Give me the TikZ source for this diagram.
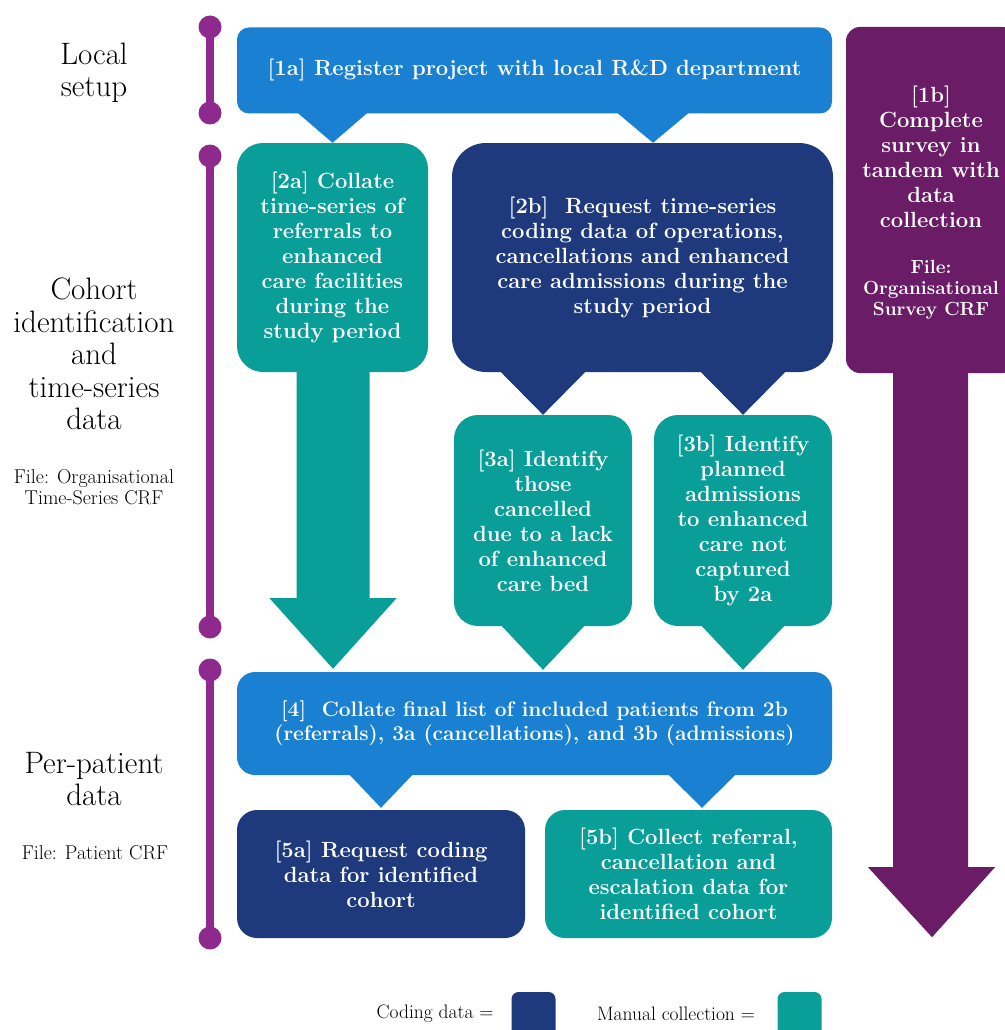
\documentclass[tikz,border=0pt]{standalone}
\usepackage{fontspec}
\usetikzlibrary{calc}
\definecolor{cLB}{HTML}{1A80D2}
\definecolor{cDB}{HTML}{1E3A7C}
\definecolor{cTeal}{HTML}{0A9E99}
\definecolor{cPurp}{HTML}{6A1D66}
\definecolor{cLine}{HTML}{8E2A8E}
\tikzset{
  boxbase/.style={inner sep=0pt, align=center, text=white,
    font=\bfseries\fontsize{22}{25}\selectfont},
  lab/.style={align=center, text=black, font=\fontsize{31}{32.5}\selectfont},
  filelab/.style={align=center, text=black, font=\fontsize{20}{20.5}\selectfont},
  leglab/.style={align=center, text=black, font=\fontsize{19.5}{21}\selectfont},
  tl/.style={line width=7.5pt, cLine},
}
\newcommand{\pointer}[4]{% colour, from node, apex coordinate, half-width
  \fill[#1] ($(#2.south -| #3)+(-#4,-1)$) -- ($(#2.south -| #3)+(#4,-1)$) -- (#3) -- cycle;}
\begin{document}
\begin{tikzpicture}[x=1pt,y=-1pt]
\useasboundingbox (0,0) rectangle (1004,1030);
\fill[white] (0,0) rectangle (1004,1030);

% timelines
\coordinate (t1a) at (210,27);  \coordinate (t1b) at (210,113);
\coordinate (t2a) at (210,156); \coordinate (t2b) at (210,627);
\coordinate (t3a) at (210,670); \coordinate (t3b) at (210,938);
\foreach \a/\b in {t1a/t1b,t2a/t2b,t3a/t3b}{
  \draw[tl] (\a) -- (\b);
  \fill[cLine] (\a) circle (11.5);
  \fill[cLine] (\b) circle (11.5);
}

% left labels
\node[lab] (Llocal) at (94,73) {Local\\setup};
\node[lab] (Lcohort) at (94,354) {Cohort\\identification\\and\\time-series\\data};
\node[filelab] (Lfile1) at (94,487) {File: Organisational\\Time-Series CRF};
\node[lab] (Lpp) at (94,779) {Per-patient\\data};
\node[filelab] (Lfile2) at (95,853) {File: Patient CRF};

% boxes
\node[boxbase, fill=cLB, rounded corners=12pt, minimum width=595pt, minimum height=86pt]
  (n1a) at (534.5,70.5) {[1a] Register project with local R\&D department};

\node[fill=cPurp, rounded corners=14pt, minimum width=170pt, minimum height=346pt, inner sep=0pt]
  (n1b) at (931,200) {};
\node[boxbase] (t1b) at (931,156.5) {[1b]\\Complete\\survey in\\tandem with\\data\\collection};
\node[boxbase, font=\bfseries\fontsize{19}{21}\selectfont] (f1b) at (931,290) {File:\\Organisational\\Survey CRF};

\node[boxbase, fill=cTeal, rounded corners=26pt, minimum width=191pt, minimum height=229pt]
  (n2a) at (332.5,257.5) {[2a] Collate\\time-series of\\referrals to\\enhanced\\care facilities\\during the\\study period};

\node[boxbase, fill=cDB, rounded corners=34pt, minimum width=381pt, minimum height=229pt]
  (n2b) at (642.5,257.5) {[2b]~~Request time-series\\coding data of operations,\\cancellations and enhanced\\care admissions during the\\study period};

\node[boxbase, fill=cTeal, rounded corners=24pt, minimum width=178pt, minimum height=211pt]
  (n3a) at (543,520.5) {[3a] Identify\\those\\cancelled\\due to a lack\\of enhanced\\care bed};

\node[boxbase, fill=cTeal, rounded corners=24pt, minimum width=178pt, minimum height=211pt]
  (n3b) at (743,520.5) {[3b] Identify\\planned\\admissions\\to enhanced\\care not\\captured\\by 2a};

\node[boxbase, font=\bfseries\fontsize{21}{24}\selectfont, fill=cLB, rounded corners=18pt, minimum width=595pt, minimum height=103pt]
  (n4) at (534.5,723.5) {[4]~~Collate final list of included patients from 2b\\(referrals), 3a (cancellations), and 3b (admissions)};

\node[boxbase, fill=cDB, rounded corners=20pt, minimum width=288pt, minimum height=128pt]
  (n5a) at (381,874) {[5a] Request coding\\data for identified\\cohort};

\node[boxbase, fill=cTeal, rounded corners=20pt, minimum width=287pt, minimum height=128pt]
  (n5b) at (688.5,874) {[5b] Collect referral,\\cancellation and\\escalation data for\\identified cohort};

% pointers
\coordinate (a12b) at ($(n2b.north)+(10.5,0)$);
\coordinate (a45b) at ($(n5b.north)+(13.5,-2)$);
\coordinate (a3a4) at ($(n4.north -| n3a.south)+(0,-2)$);
\coordinate (a3b4) at ($(n4.north -| n3b.south)+(0,-2)$);
\coordinate (a45a) at ($(n5a.north)+(0,-2)$);
\pointer{cLB}{n1a}{n2a.north}{35}
\pointer{cLB}{n1a}{a12b}{36}
\pointer{cDB}{n2b}{n3a.north}{43}
\pointer{cDB}{n2b}{n3b.north}{43}
\pointer{cTeal}{n3a}{a3a4}{42}
\pointer{cTeal}{n3b}{a3b4}{42}
\pointer{cLB}{n4}{a45a}{32}
\pointer{cLB}{n4}{a45b}{34}

% big arrow from 2a to 4
\coordinate (tip2a) at ($(n4.north -| n2a.south)+(0.5,-3)$);
\fill[cTeal] ($(n2a.south)+(-36,-1)$) -- ($(n2a.south)+(-36,226)$) -- ($(n2a.south)+(-63,226)$)
  -- (tip2a) -- ($(n2a.south)+(64,226)$) -- ($(n2a.south)+(37,226)$) -- ($(n2a.south)+(37,-1)$) -- cycle;

% big arrow from 1b
\coordinate (tip1b) at ($(n1b.south)+(1,564)$);
\fill[cPurp] ($(n1b.south)+(-38,-1)$) -- ($(n1b.south)+(-38,494)$) -- ($(n1b.south)+(-63,494)$)
  -- (tip1b) -- ($(n1b.south)+(64,494)$) -- ($(n1b.south)+(37,494)$) -- ($(n1b.south)+(37,-1)$) -- cycle;

% legend
\node[leglab] (lg1) at (435,1014) {Coding data =};
\node[fill=cDB, rounded corners=7pt, minimum width=44pt, minimum height=56pt, inner sep=0pt] (lgDB) at (533.5,1020) {};
\node[leglab] (lg2) at (676,1014) {Manual collection =};
\node[fill=cTeal, rounded corners=7pt, minimum width=44pt, minimum height=56pt, inner sep=0pt] (lgT) at (799.5,1020) {};
\end{tikzpicture}
\end{document}
